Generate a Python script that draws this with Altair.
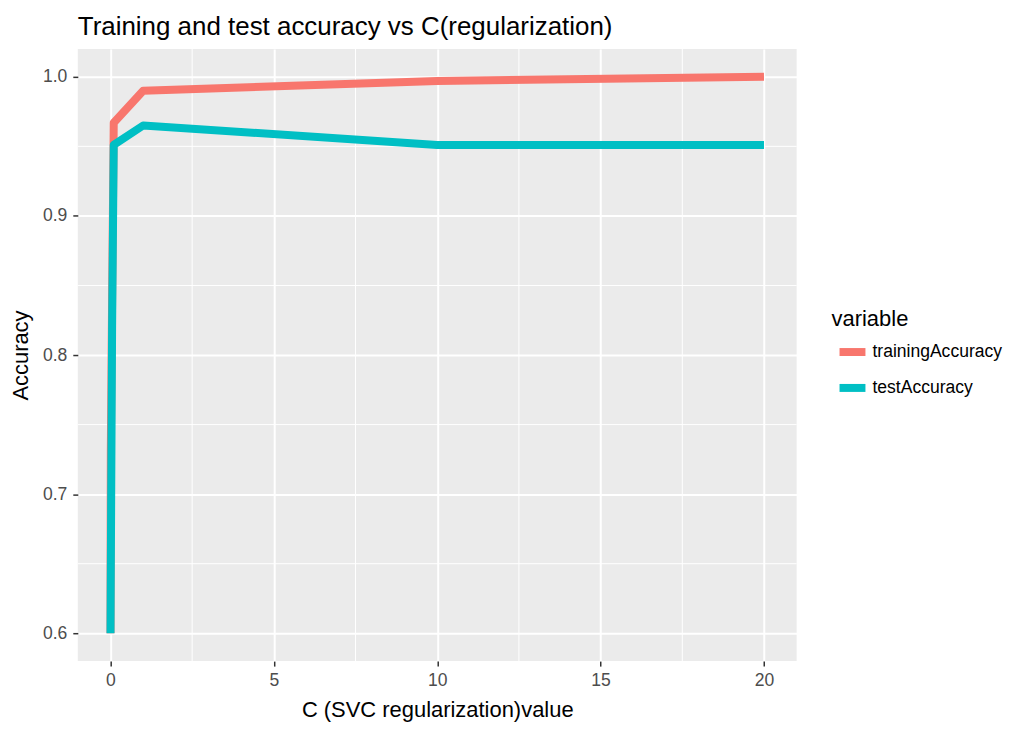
import altair as alt
import pandas as pd

# Data
c_values = [0.001, 0.01, 0.05, 0.1, 1, 10, 20]
training_accuracy = [0.60, 0.73, 0.84, 0.967, 0.990, 0.997, 1.000]
test_accuracy = [0.60, 0.644, 0.819, 0.951, 0.965, 0.951, 0.951]
series_names = ["trainingAccuracy", "testAccuracy"]
series_colors = ["#F8766D", "#00BFC4"]
x_ticks = [0, 5, 10, 15, 20]
y_ticks = [0.6, 0.7, 0.8, 0.9, 1.0]
x_minor = [2.5, 7.5, 12.5, 17.5]
y_minor = [0.65, 0.75, 0.85, 0.95]

rows = []
for c, v in zip(c_values, training_accuracy):
    rows.append({"C": c, "value": v, "variable": series_names[0]})
for c, v in zip(c_values, test_accuracy):
    rows.append({"C": c, "value": v, "variable": series_names[1]})
df = pd.DataFrame(rows)

FONT = "Liberation Sans"

x_scale = alt.Scale(domain=[-1, 21], nice=False, zero=False)
y_scale = alt.Scale(domain=[0.58, 1.02], nice=False, zero=False)

x_axis = alt.Axis(values=x_ticks, title="C (SVC regularization)value", format="d")
y_axis = alt.Axis(values=y_ticks, title="Accuracy", format=".1f")

minor_v = alt.Chart(pd.DataFrame({"x": x_minor})).mark_rule(
    color="white", strokeWidth=1
).encode(x=alt.X("x:Q", scale=x_scale, axis=x_axis))

minor_h = alt.Chart(pd.DataFrame({"y": y_minor})).mark_rule(
    color="white", strokeWidth=1
).encode(y=alt.Y("y:Q", scale=y_scale, axis=y_axis))

lines = alt.Chart(df).mark_line(strokeWidth=8, strokeJoin="round", strokeCap="butt").encode(
    x=alt.X("C:Q", scale=x_scale, axis=x_axis),
    y=alt.Y("value:Q", scale=y_scale, axis=y_axis),
    color=alt.Color(
        "variable:N",
        scale=alt.Scale(domain=series_names, range=series_colors),
        sort=series_names,
        legend=alt.Legend(
            title="variable",
            orient="none",
            legendX=756,
            legendY=261,
            symbolType="stroke",
            symbolSize=676,
            symbolStrokeWidth=8,
            symbolOffset=4,
            labelOffset=3,
            rowPadding=3,
            titlePadding=4,
            padding=0,
        ),
    ),
)

chart = alt.layer(minor_v, minor_h, lines).properties(
    width=721,
    height=614,
    autosize=alt.AutoSizeParams(type="none"),
    padding={"left": 70, "top": 40, "right": 220, "bottom": 60},
    title=alt.TitleParams(
        "Training and test accuracy vs C(regularization)",
        anchor="start",
        frame="group",
        fontSize=26,
        font=FONT,
        fontWeight="normal",
        color="black",
        baseline="alphabetic",
        offset=-13,
    ),
).configure(background="white").configure_view(
    fill="#EBEBEB", stroke=None
).configure_axis(
    domain=False,
    grid=True,
    gridColor="white",
    gridWidth=2,
    tickColor="#333333",
    tickWidth=1.5,
    tickSize=5,
    labelFont=FONT,
    labelFontSize=17.6,
    labelColor="#4D4D4D",
    titleFont=FONT,
    titleFontSize=22,
    titleFontWeight="normal",
    titleColor="black",
).configure_axisX(
    labelPadding=5, titlePadding=11
).configure_axisY(
    labelPadding=6, titlePadding=10
).configure_legend(
    titleFont=FONT,
    titleFontSize=22,
    titleFontWeight="normal",
    titleColor="black",
    labelFont=FONT,
    labelFontSize=17.6,
    labelColor="black",
)

chart.save("out.html", embed_options={"renderer": "svg", "actions": False})
